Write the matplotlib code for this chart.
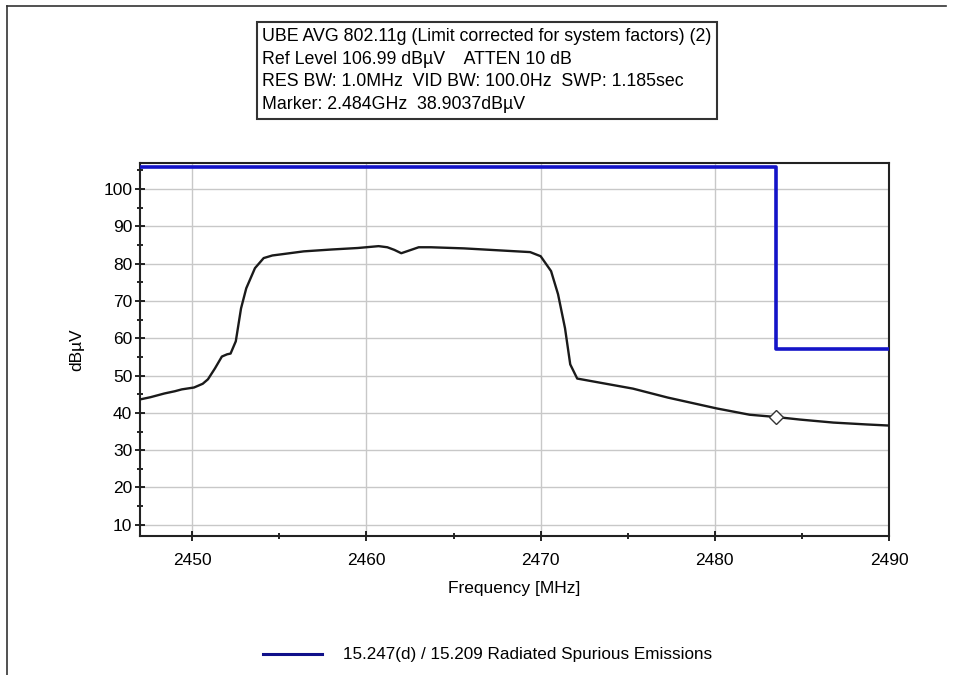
import matplotlib
matplotlib.use("Agg")
import matplotlib.pyplot as plt
from matplotlib.lines import Line2D
from matplotlib.ticker import MultipleLocator

plt.rcParams['font.family'] = ['Liberation Sans', 'DejaVu Sans']

# Measured trace (MHz, dBuV)
freq = [2447.0, 2447.6, 2448.4, 2449.0, 2449.4, 2450.1, 2450.6, 2450.9, 2451.3,
        2451.7, 2452.0, 2452.2, 2452.5, 2452.8, 2453.1, 2453.6, 2454.1, 2454.6,
        2455.1, 2456.4, 2458.0, 2459.5, 2460.7, 2461.2, 2461.6, 2462.0, 2462.5,
        2463.0, 2463.7, 2465.6, 2467.5, 2469.4, 2470.0, 2470.6, 2471.0, 2471.4,
        2471.7, 2472.1, 2473.4, 2475.3, 2477.3, 2480.1, 2482.0, 2483.5, 2484.9,
        2486.8, 2488.7, 2490.0]
level = [43.6, 44.2, 45.2, 45.8, 46.3, 46.8, 47.8, 49.0, 51.9,
         55.1, 55.7, 55.9, 59.2, 68.0, 73.4, 78.8, 81.5, 82.2,
         82.5, 83.3, 83.8, 84.2, 84.7, 84.4, 83.7, 82.8, 83.6,
         84.4, 84.4, 84.1, 83.6, 83.1, 82.0, 78.0, 71.8, 62.7,
         53.0, 49.2, 48.1, 46.5, 44.1, 41.2, 39.5, 38.9, 38.2,
         37.4, 36.9, 36.6]

# Limit line (15.247(d) / 15.209)
limit_freq = [2447.0, 2483.5, 2483.5, 2490.0]
limit_level = [106.0, 106.0, 57.0, 57.0]

marker_freq = 2483.5
marker_level = 38.9037

header_lines = [
    "UBE AVG 802.11g (Limit corrected for system factors) (2)",
    "Ref Level 106.99 dB\u00b5V    ATTEN 10 dB",
    "RES BW: 1.0MHz  VID BW: 100.0Hz  SWP: 1.185sec",
    "Marker: 2.484GHz  38.9037dB\u00b5V",
]
legend_label = "15.247(d) / 15.209 Radiated Spurious Emissions"

W, H = 954, 675
fig = plt.figure(figsize=(W / 100, H / 100), dpi=100)
fig.patch.set_facecolor('white')

ax = fig.add_axes([140 / W, 1 - 536 / H, (889 - 140) / W, (536 - 163) / H])
ax.set_xlim(2447.0, 2490.0)
ax.set_ylim(6.99, 106.99)

ax.xaxis.set_major_locator(MultipleLocator(10))
ax.xaxis.set_minor_locator(MultipleLocator(5))
ax.yaxis.set_major_locator(MultipleLocator(10))
ax.yaxis.set_minor_locator(MultipleLocator(5))
ax.tick_params(axis='both', which='both', direction='inout', color='black',
               width=1.2, labelsize=12.5)
ax.tick_params(axis='both', which='major', length=7)
ax.tick_params(axis='both', which='minor', length=5)
ax.tick_params(axis='x', which='major', pad=9)
ax.tick_params(axis='y', which='major', pad=2)
ax.set_yticks(range(10, 101, 10))
ax.grid(True, which='major', color='#c8c8c8', linewidth=1.0)
ax.set_axisbelow(True)
for sp in ax.spines.values():
    sp.set_linewidth(1.5)
    sp.set_color('#222222')

ax.plot(limit_freq, limit_level, color='#1414c8', linewidth=2.6, zorder=3)
ax.plot(freq, level, color='#1a1a1a', linewidth=1.7, zorder=4)
ax.plot([marker_freq], [marker_level], marker='D', markersize=7,
        markerfacecolor='white', markeredgecolor='#333333',
        markeredgewidth=1.0, zorder=5, linestyle='none')

ax.set_xlabel("Frequency [MHz]", fontsize=12.5, labelpad=9)
ax.set_ylabel("dB\u00b5V", fontsize=12.5, labelpad=14)

# Header box with sweep settings
fig.text(262 / W, 1 - 70.5 / H, "\n".join(header_lines), fontsize=12.75,
         ha='left', va='center', linespacing=1.45,
         bbox=dict(boxstyle='square,pad=0.3', facecolor='white',
                   edgecolor='#333333', linewidth=1.5))

# Legend
handle = Line2D([0], [0], color='#10108a', linewidth=2.2)
fig.legend([handle], [legend_label], loc='center left',
           bbox_to_anchor=(248 / W, 1 - 655 / H), frameon=False,
           fontsize=12.3, handlelength=3.45, handletextpad=1.2)

# Outer frame
fig.add_artist(Line2D([7 / W, 7 / W], [0, 1 - 6 / H], color='#333333',
                      linewidth=1.2, transform=fig.transFigure))
fig.add_artist(Line2D([7 / W, 946 / W], [1 - 6 / H, 1 - 6 / H], color='#333333',
                      linewidth=1.2, transform=fig.transFigure))

fig.savefig("out.png", dpi=100, facecolor='white')
